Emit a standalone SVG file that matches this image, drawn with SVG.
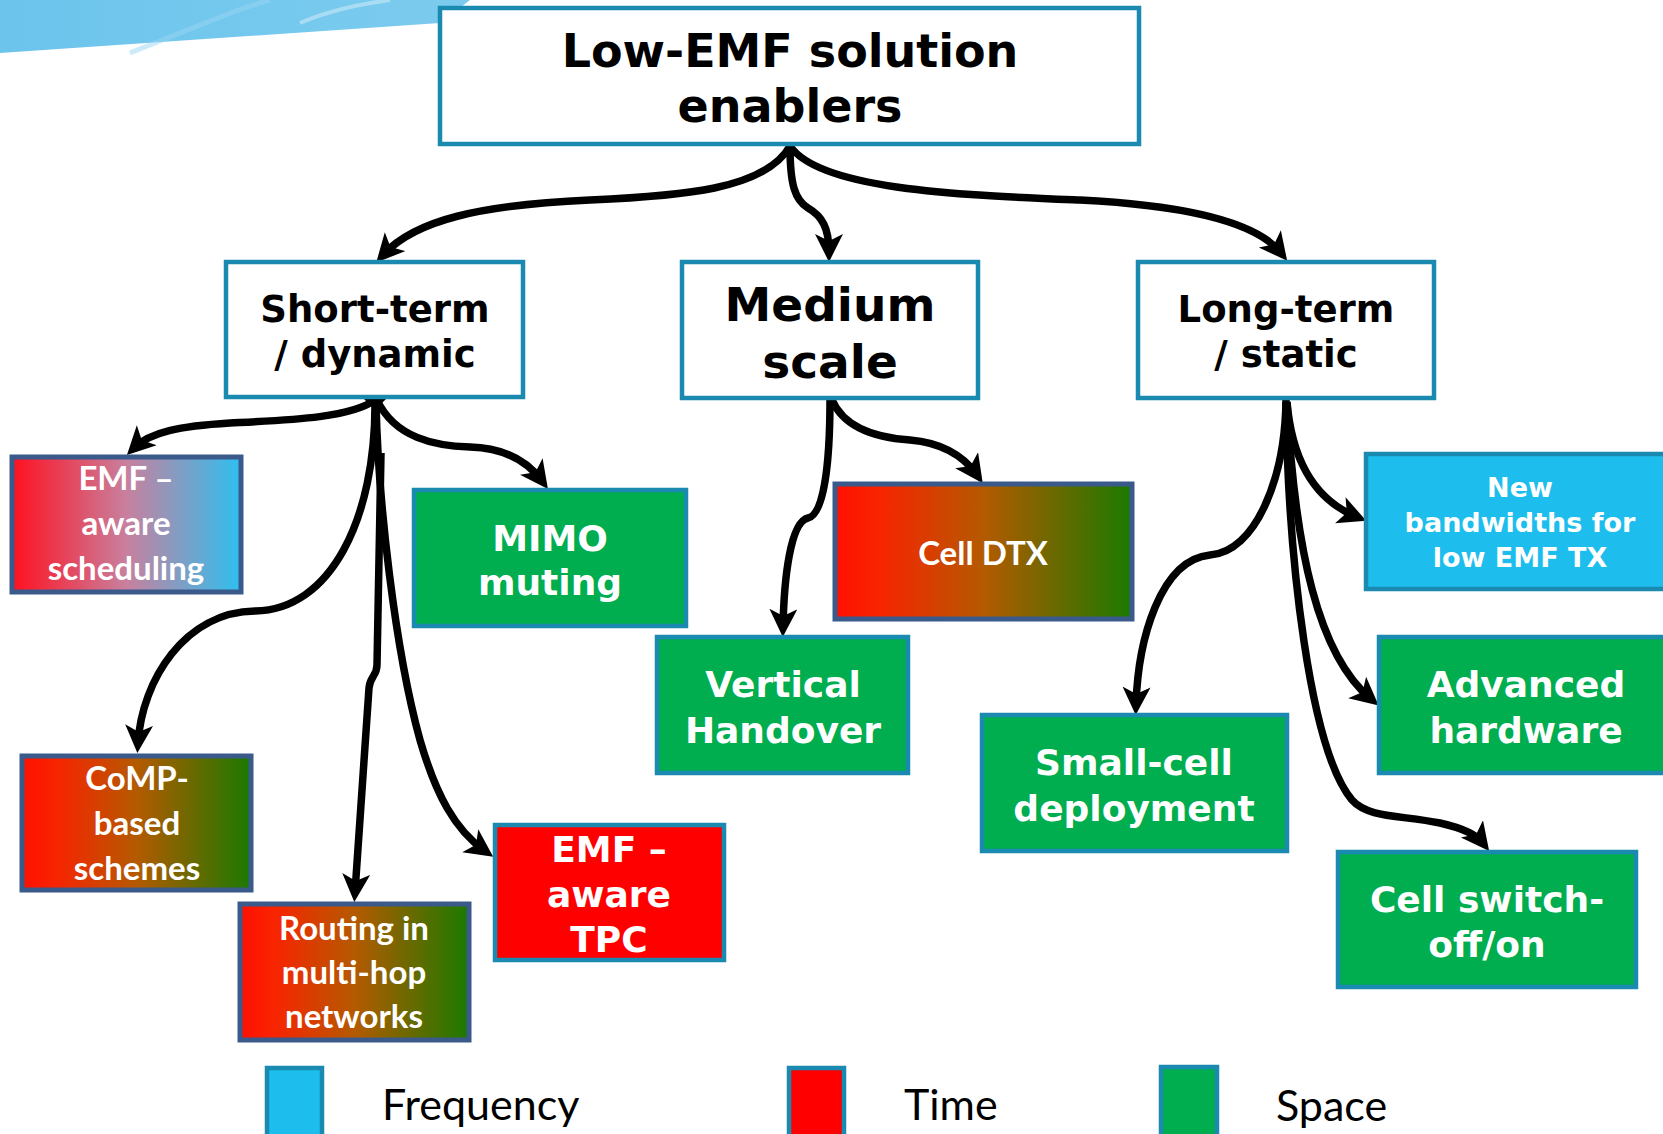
<svg xmlns="http://www.w3.org/2000/svg" width="1663" height="1134" viewBox="0 0 1663 1134">
<defs>
<style>
.hdr{fill:#fff;stroke:#1a8ab0;stroke-width:4.5}
.grn{fill:#00ad4f;stroke:#1a8ab0;stroke-width:4.5}
.blu{fill:#1dbeed;stroke:#1a8ab0;stroke-width:4.5}
.red{fill:#ff0000;stroke:#1a8ab0;stroke-width:4.5}
.grd{fill:url(#rg);stroke:#3a5a8c;stroke-width:5}
.v{font-family:"DejaVu Sans",Verdana,sans-serif;font-weight:bold;text-anchor:middle}
.vb{fill:#000}
.vw{fill:#fff}
.c{font-family:Lato,"Liberation Sans",sans-serif;font-weight:bold;fill:#fff;text-anchor:middle;font-size:33px}
.lg{font-family:Lato,"Liberation Sans",sans-serif;fill:#000;font-size:43px}
.con path{fill:none;stroke:#000;stroke-width:7.5;marker-end:url(#ah)}
</style>
<linearGradient id="rg" x1="0" y1="0" x2="1" y2="0">
<stop offset="0" stop-color="#ff1000"/>
<stop offset="0.15" stop-color="#f82400"/>
<stop offset="0.5" stop-color="#b45a00"/>
<stop offset="1" stop-color="#1a7a00"/>
</linearGradient>
<linearGradient id="rb" x1="0" y1="0" x2="1" y2="0">
<stop offset="0" stop-color="#ff1020"/>
<stop offset="0.5" stop-color="#c8809e"/>
<stop offset="1" stop-color="#2ec0f0"/>
</linearGradient>
<linearGradient id="band" x1="0" y1="0" x2="1" y2="0">
<stop offset="0" stop-color="#6cc4ec"/>
<stop offset="0.5" stop-color="#74c8ee"/>
<stop offset="1" stop-color="#7ccbee"/>
</linearGradient>
<marker id="ah" markerUnits="userSpaceOnUse" markerWidth="30" markerHeight="30" viewBox="0 0 30 30" refX="18" refY="14" orient="auto">
<path d="M0,0 L28,14 L0,28 L7,14 z" fill="#000"/>
</marker>
</defs>

<polygon points="0,0 470,0 440,23 0,53" fill="url(#band)"/>
<path d="M130,53 C200,25 240,8 270,0" fill="none" stroke="#9ad6f2" stroke-width="5" opacity="0.5"/>
<path d="M300,23 C330,10 360,4 390,0" fill="none" stroke="#c8eaf8" stroke-width="4" opacity="0.6"/>

<g id="connectors" class="con">
<path d="M790,146 C765,190 680,196 590,200 C480,205 415,220 383,255"/>
<path d="M790,146 C790,185 795,200 808,208 C822,216 829,228 829,252"/>
<path d="M790,146 C820,190 960,195 1080,200 C1180,205 1255,220 1281,253"/>
<path d="M375,400 C350,418 290,420 230,423 C180,426 150,432 134,448"/>
<path d="M377,400 C395,438 435,446 470,447 C505,448 528,462 542,481"/>
<path d="M375,400 C376,520 330,610 255,611 C185,612 142,680 138,743"/>
<path d="M381,453 L377,665 C377,676 370,676 369,688 L355,892"/>
<path d="M376,402 C378,500 395,650 420,740 C436,795 455,830 485,851"/>
<path d="M830,398 C830,470 823,515 808,518 C790,522 784,580 783,627"/>
<path d="M832,400 C845,430 880,438 910,440 C945,443 965,458 977,475"/>
<path d="M1286,400 C1285,480 1255,552 1210,555 C1160,560 1138,640 1136,705"/>
<path d="M1287,402 C1292,460 1315,500 1357,517"/>
<path d="M1287,402 C1295,550 1318,655 1371,699"/>
<path d="M1286,402 C1288,560 1310,750 1352,800 C1368,818 1400,815 1440,823 C1462,828 1476,834 1483,843"/>
<polygon points="375,386 387,398 375,410 363,398" fill="#000"/>
</g>

<g id="root">
<rect class="hdr" x="440" y="8" width="699" height="136"/>
<text class="v vb" font-size="46" x="790" y="67">Low-EMF solution</text>
<text class="v vb" font-size="46" x="790" y="122">enablers</text>
</g>

<g id="short-term">
<rect class="hdr" x="226" y="262" width="297" height="135"/>
<text class="v vb" font-size="37" x="375" y="322">Short-term</text>
<text class="v vb" font-size="37" x="375" y="367">/ dynamic</text>
</g>

<g id="medium">
<rect class="hdr" x="682" y="262" width="296" height="136"/>
<text class="v vb" font-size="47" x="830" y="321">Medium</text>
<text class="v vb" font-size="47" x="830" y="378">scale</text>
</g>

<g id="long-term">
<rect class="hdr" x="1138" y="262" width="296" height="136"/>
<text class="v vb" font-size="37" x="1286" y="322">Long-term</text>
<text class="v vb" font-size="37" x="1286" y="367">/ static</text>
</g>

<g id="emf-scheduling">
<rect x="12" y="457" width="229" height="135" fill="url(#rb)" stroke="#3a5a8c" stroke-width="5"/>
<text class="c" x="126" y="490">EMF –</text>
<text class="c" x="126" y="535">aware</text>
<text class="c" x="126" y="580">scheduling</text>
</g>

<g id="mimo">
<rect class="grn" x="414" y="490" width="272" height="136"/>
<text class="v vw" font-size="36" x="550" y="551">MIMO</text>
<text class="v vw" font-size="36" x="550" y="595">muting</text>
</g>

<g id="comp">
<rect class="grd" x="22" y="756" width="229" height="134"/>
<text class="c" x="137" y="790">CoMP-</text>
<text class="c" x="137" y="835">based</text>
<text class="c" x="137" y="880">schemes</text>
</g>

<g id="routing">
<rect class="grd" x="240" y="904" width="229" height="136"/>
<text class="c" x="354" y="940">Routing in</text>
<text class="c" x="354" y="984">multi-hop</text>
<text class="c" x="354" y="1028">networks</text>
</g>

<g id="emf-tpc">
<rect class="red" x="495" y="825" width="229" height="135"/>
<text class="v vw" font-size="36" x="609" y="862">EMF –</text>
<text class="v vw" font-size="36" x="609" y="907">aware</text>
<text class="v vw" font-size="36" x="609" y="952">TPC</text>
</g>

<g id="vertical-handover">
<rect class="grn" x="657" y="637" width="251" height="136"/>
<text class="v vw" font-size="36" x="783" y="697">Vertical</text>
<text class="v vw" font-size="36" x="783" y="743">Handover</text>
</g>

<g id="cell-dtx">
<rect class="grd" x="835" y="484" width="297" height="135"/>
<text class="c" x="983" y="565">Cell DTX</text>
</g>

<g id="new-bandwidths">
<rect class="blu" x="1366" y="454" width="310" height="135"/>
<text class="v vw" font-size="27" x="1520" y="497">New</text>
<text class="v vw" font-size="27" x="1520" y="532">bandwidths for</text>
<text class="v vw" font-size="27" x="1520" y="567">low EMF TX</text>
</g>

<g id="advanced-hardware">
<rect class="grn" x="1379" y="637" width="296" height="136"/>
<text class="v vw" font-size="36" x="1526" y="697">Advanced</text>
<text class="v vw" font-size="36" x="1526" y="743">hardware</text>
</g>

<g id="small-cell">
<rect class="grn" x="982" y="715" width="305" height="136"/>
<text class="v vw" font-size="36" x="1134" y="775">Small-cell</text>
<text class="v vw" font-size="36" x="1134" y="821">deployment</text>
</g>

<g id="cell-switch">
<rect class="grn" x="1338" y="852" width="298" height="135"/>
<text class="v vw" font-size="36" x="1487" y="912">Cell switch-</text>
<text class="v vw" font-size="36" x="1487" y="957">off/on</text>
</g>

<g id="legend">
<rect class="blu" x="267" y="1068" width="55" height="80"/>
<text class="lg" x="382" y="1120">Frequency</text>
<rect class="red" x="789" y="1068" width="55" height="80"/>
<text class="lg" x="904" y="1120">Time</text>
<rect class="grn" x="1161" y="1067" width="56" height="80"/>
<text class="lg" x="1276" y="1121">Space</text>
</g>
</svg>
